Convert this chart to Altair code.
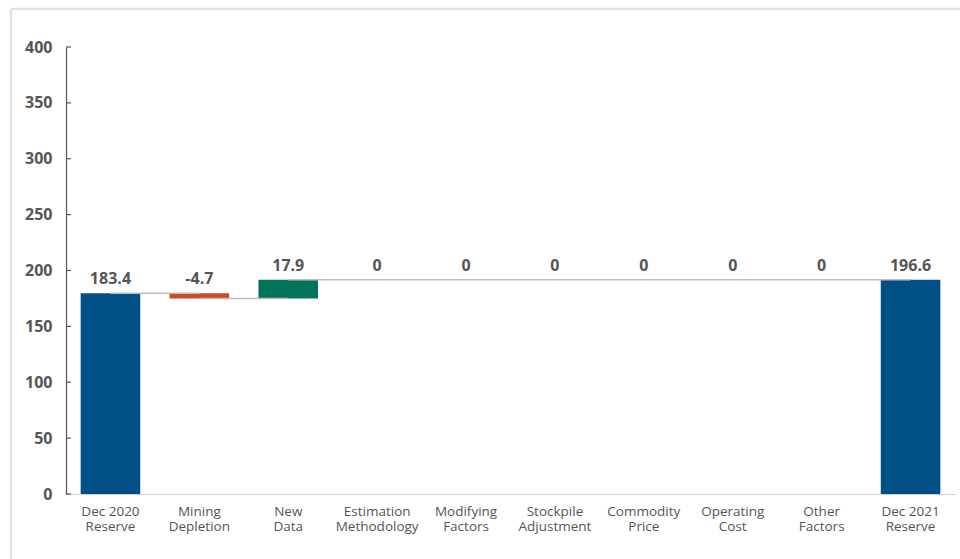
import altair as alt
import pandas as pd

categories = ["Dec 2020\nReserve", "Mining\nDepletion", "New\nData", "Estimation\nMethodology",
              "Modifying\nFactors", "Stockpile\nAdjustment", "Commodity\nPrice", "Operating\nCost",
              "Other\nFactors", "Dec 2021\nReserve"]
# bar heights as drawn (start total, then changes); final total is the running sum
bar_values = [179.7, -4.8, 16.8, 0, 0, 0, 0, 0, 0]
value_labels = ["183.4", "-4.7", "17.9", "0", "0", "0", "0", "0", "0", "196.6"]
y_ticks = [0, 50, 100, 150, 200, 250, 300, 350, 400]

BLUE, RED, GREEN = "#005087", "#cc4a26", "#00735a"

rows = []
level = 0.0
for i, cat in enumerate(categories):
    if i == 0:
        start, end, kind = 0.0, bar_values[0], "total"
    elif i == len(categories) - 1:
        start, end, kind = 0.0, level, "total"
    else:
        v = bar_values[i]
        start, end = level, level + v
        kind = "decrease" if v < 0 else ("increase" if v > 0 else "none")
    level = end
    rows.append({"cat": cat, "start": start, "end": end, "top": max(start, end),
                 "kind": kind, "label": value_labels[i],
                 "next": categories[i + 1] if i + 1 < len(categories) else None})
df = pd.DataFrame(rows)

xscale = alt.Scale(domain=categories, paddingInner=0.33, paddingOuter=0.165)
yscale = alt.Scale(domain=[0, 400], nice=False)

xenc = alt.X("cat:N", scale=xscale, sort=categories,
             axis=alt.Axis(title=None, labelAngle=0, ticks=False, tickSize=0,
                           domainColor="#d0d0d0", domainWidth=1.2,
                           labelExpr="split(datum.label, '\\n')",
                           labelFont="Open Sans", labelFontSize=13.5, labelColor="#555555",
                           labelLineHeight=15, labelPadding=10))

bars = alt.Chart(df).mark_bar().encode(
    x=xenc,
    y=alt.Y("start:Q", scale=yscale,
            axis=alt.Axis(title=None, values=y_ticks, grid=False, ticks=False, tickSize=0,
                          domainColor="#555555", domainWidth=1.2,
                          labelFont="Open Sans", labelFontSize=16, labelFontWeight="bold",
                          labelColor="#555555", labelPadding=14)),
    y2="end:Q",
    color=alt.Color("kind:N", legend=None,
                    scale=alt.Scale(domain=["total", "decrease", "increase", "none"],
                                    range=[BLUE, RED, GREEN, BLUE])),
)

connectors = alt.Chart(df).transform_filter("datum.next != null").mark_rule(
    color="#bdbdbd", strokeWidth=1.6
).encode(
    x=alt.X("cat:N", scale=xscale, sort=categories),
    x2="next:N",
    y=alt.Y("end:Q", scale=yscale),
)

texts = alt.Chart(df).mark_text(
    font="Open Sans", fontSize=16, fontWeight="bold", color="#555555", dy=-14, baseline="middle"
).encode(
    x=alt.X("cat:N", scale=xscale, sort=categories),
    y=alt.Y("top:Q", scale=yscale),
    text="label:N",
)

ticks = alt.Chart(pd.DataFrame({"v": y_ticks})).mark_rule(color="#555555", strokeWidth=1.2).encode(
    y=alt.Y("v:Q", scale=yscale),
    x=alt.value(0),
    x2=alt.value(5),
)

one = alt.Data(values=[{"a": 1}])
frame_top = alt.Chart(one).mark_rule(color="#dde3ee", strokeWidth=2.5).encode(
    x=alt.value(-55), x2=alt.value(900), y=alt.value(-38))
frame_left = alt.Chart(one).mark_rule(color="#dde3ee", strokeWidth=2.5).encode(
    x=alt.value(-55), y=alt.value(-38), y2=alt.value(520))

chart = alt.layer(frame_top, frame_left, bars, connectors, ticks, texts).properties(
    width=889, height=447,
    autosize=alt.AutoSizeParams(type="none"),
    padding={"left": 66, "top": 47, "right": 5, "bottom": 65},
    background="white",
).configure_view(stroke=None)

chart.save("out.html", embed_options={"renderer": "svg", "actions": False})
